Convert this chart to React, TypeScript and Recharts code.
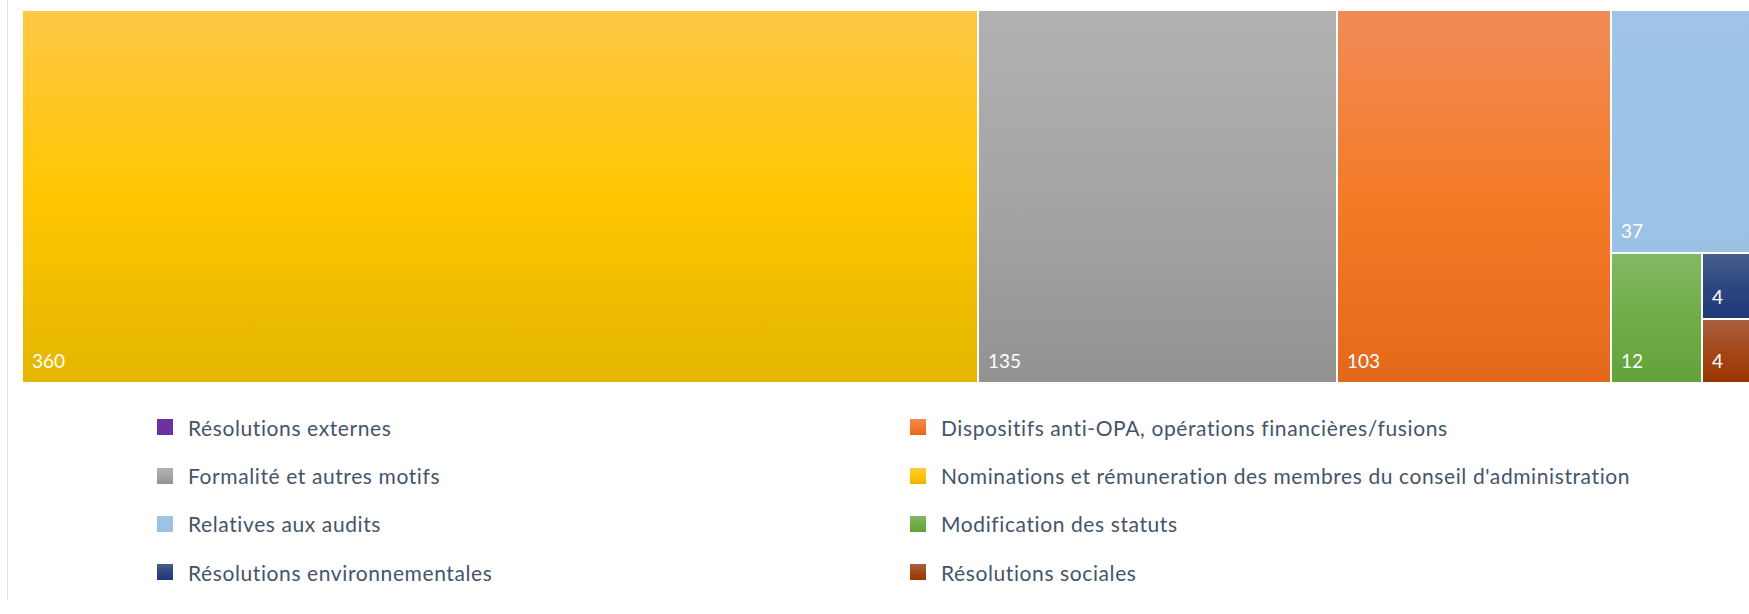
import React from "react";
import { Treemap } from "recharts";

// Legend order (two columns, row-major)
const categories = [
  "Résolutions externes",
  "Dispositifs anti-OPA, opérations financières/fusions",
  "Formalité et autres motifs",
  "Nominations et rémuneration des membres du conseil d'administration",
  "Relatives aux audits",
  "Modification des statuts",
  "Résolutions environnementales",
  "Résolutions sociales",
];

const values = [0, 103, 135, 360, 37, 12, 4, 4];

// gradient stops: top, middle, bottom
const topColors = ["#7030A0", "#F08B57", "#B1B1B1", "#FFC846", "#9FC4E7", "#82B964", "#4B5F8D", "#AB6042"];
const midColors = ["#7030A0", "#F47B28", "#A5A5A5", "#FFC600", "#9DC3E6", "#70AD47", "#2C4680", "#A24818"];
const botColors = ["#7030A0", "#E46819", "#929292", "#E3B600", "#9BC1E4", "#62A339", "#1D3A77", "#993600"];

const FONT = "Lato, 'Open Sans', sans-serif";

const treeData = categories
  .map((name, i) => ({ name, size: values[i], idx: i }))
  .filter((d) => d.size > 0)
  .sort((a, b) => b.size - a.size);

const Cell = (props: any) => {
  const { x, y, width, height, depth, idx, value } = props;
  if (depth !== 1) return null;
  return (
    <g>
      <rect
        x={x}
        y={y}
        width={width}
        height={height}
        fill={`url(#grad${idx})`}
        stroke="#ffffff"
        strokeWidth={2}
      />
      <text
        x={x + 10}
        y={y + height - 15}
        fill="#ffffff"
        fontSize={19}
        fontFamily={FONT}
        stroke="none"
      >
        {value}
      </text>
    </g>
  );
};

export default function App() {
  return (
    <div
      style={{
        position: "absolute",
        left: 0,
        top: 0,
        width: 1749,
        height: 614,
        overflow: "hidden",
        background: "#ffffff",
        fontFamily: FONT,
      }}
    >
      <div
        style={{
          position: "absolute",
          left: 7,
          top: 0,
          width: 1,
          height: 600,
          background: "#DCE3EC",
        }}
      />
      <svg width={0} height={0} style={{ position: "absolute" }}>
        <defs>
          {categories.map((c, i) => (
            <linearGradient key={c} id={`grad${i}`} x1="0" y1="0" x2="0" y2="1">
              <stop offset="0%" stopColor={topColors[i]} />
              <stop offset="50%" stopColor={midColors[i]} />
              <stop offset="100%" stopColor={botColors[i]} />
            </linearGradient>
          ))}
        </defs>
      </svg>
      <div style={{ position: "absolute", left: 22, top: 10 }}>
        <Treemap
          width={1740}
          height={373}
          data={treeData}
          dataKey="size"
          nameKey="name"
          aspectRatio={1}
          isAnimationActive={false}
          content={<Cell />}
        />
      </div>
      <div
        style={{
          position: "absolute",
          left: 157,
          top: 403,
          display: "grid",
          gridTemplateColumns: "753px auto",
          gridAutoRows: "48.4px",
        }}
      >
        {categories.map((c, i) => (
          <div key={c} style={{ display: "flex", alignItems: "center" }}>
            <div
              style={{
                width: 16,
                height: 16,
                background: `linear-gradient(${topColors[i]}, ${midColors[i]}, ${botColors[i]})`,
                marginRight: 15,
                flex: "none",
              }}
            />
            <span
              style={{
                fontSize: 21,
                letterSpacing: "0.6px",
                color: "#44546A",
                whiteSpace: "nowrap",
              }}
            >
              {c}
            </span>
          </div>
        ))}
      </div>
    </div>
  );
}
